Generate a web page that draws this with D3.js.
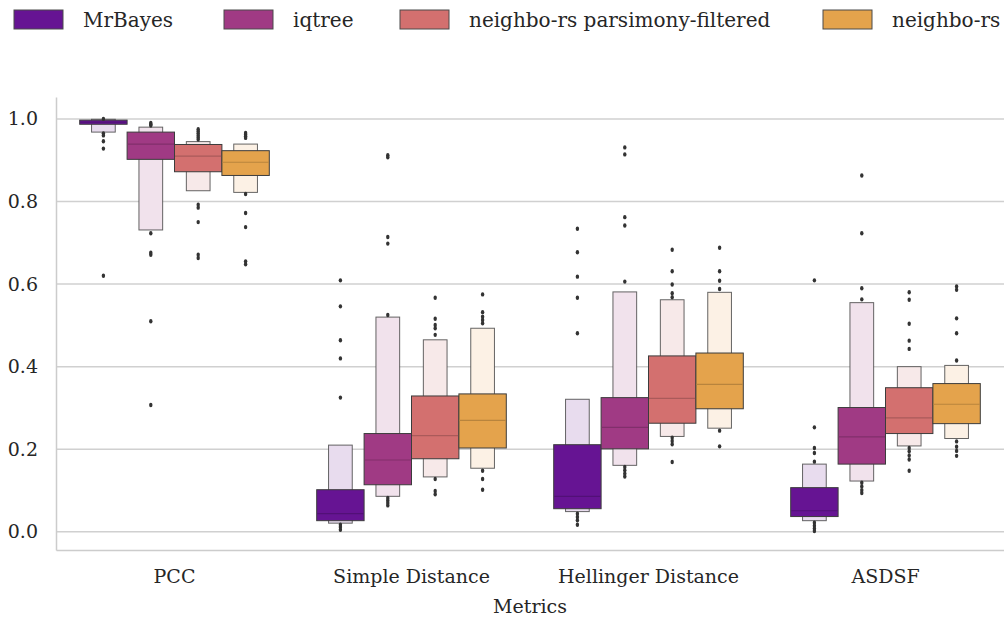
<!DOCTYPE html>
<html lang="en">
<head>
<meta charset="UTF-8" />
<title>Metrics boxen plot</title>
<script src="https://d3js.org/d3.v7.min.js"></script>
<style>
  body { margin: 0; background: #fff; }
  svg text { font-family: "DejaVu Serif", serif !important; fill: #262626; }
</style>
</head>
<body>
<svg width="1004" height="619"></svg>
<script>
// categories and series
var metrics = ["PCC", "Simple Distance", "Hellinger Distance", "ASDSF"];
var series = ["MrBayes", "iqtree", "neighbo-rs parsimony-filtered", "neighbo-rs"];
var colors = ["#661493", "#a03a84", "#d3706f", "#e4a34c"];
var lightColors = ["#e8dcee", "#f1e2ec", "#f7e9e9", "#fcf1e5"];
var yTicks = [0.0, 0.2, 0.4, 0.6, 0.8, 1.0];

// letter values per metric: [outer low, q1, median, q3, outer high]
var mrbayesLV = [[0.968, 0.987, 0.992, 0.997, 0.999], [0.021, 0.027, 0.044, 0.102, 0.21], [0.049, 0.056, 0.086, 0.211, 0.321], [0.027, 0.037, 0.051, 0.107, 0.164]];
var iqtreeLV = [[0.731, 0.902, 0.939, 0.968, 0.980], [0.086, 0.114, 0.174, 0.238, 0.52], [0.161, 0.201, 0.253, 0.325, 0.581], [0.123, 0.164, 0.23, 0.301, 0.555]];
var parsLV = [[0.826, 0.872, 0.91, 0.938, 0.945], [0.133, 0.177, 0.233, 0.329, 0.465], [0.231, 0.263, 0.323, 0.426, 0.562], [0.208, 0.238, 0.276, 0.349, 0.4]];
var neighLV = [[0.822, 0.863, 0.895, 0.923, 0.939], [0.154, 0.203, 0.27, 0.334, 0.493], [0.251, 0.298, 0.357, 0.433, 0.58], [0.226, 0.262, 0.309, 0.359, 0.403]];

// outliers per metric
var mrbayesOut = [[1.0, 0.965, 0.96, 0.946, 0.928, 0.62], [0.609, 0.546, 0.464, 0.42, 0.325, 0.017, 0.012, 0.005], [0.734, 0.677, 0.618, 0.567, 0.481, 0.044, 0.036, 0.028, 0.017], [0.609, 0.253, 0.203, 0.191, 0.17, 0.022, 0.015, 0.008, 0.002]];
var iqtreeOut = [[0.99, 0.987, 0.984, 0.723, 0.676, 0.671, 0.51, 0.307], [0.912, 0.907, 0.714, 0.698, 0.525, 0.082, 0.076, 0.07, 0.064], [0.931, 0.914, 0.762, 0.742, 0.606, 0.157, 0.149, 0.141, 0.134], [0.863, 0.723, 0.59, 0.563, 0.119, 0.11, 0.101, 0.094]];
var parsOut = [[0.975, 0.97, 0.965, 0.96, 0.955, 0.95, 0.792, 0.785, 0.75, 0.671, 0.663], [0.567, 0.516, 0.501, 0.493, 0.477, 0.128, 0.099, 0.091], [0.683, 0.631, 0.599, 0.578, 0.568, 0.228, 0.22, 0.212, 0.169], [0.58, 0.562, 0.504, 0.463, 0.443, 0.203, 0.195, 0.185, 0.175, 0.148]];
var neighOut = [[0.966, 0.962, 0.958, 0.954, 0.818, 0.772, 0.738, 0.655, 0.648], [0.575, 0.532, 0.521, 0.513, 0.505, 0.148, 0.128, 0.102], [0.688, 0.631, 0.608, 0.588, 0.245, 0.207], [0.594, 0.586, 0.517, 0.481, 0.415, 0.219, 0.206, 0.196, 0.184]];

var allLV = [mrbayesLV, iqtreeLV, parsLV, neighLV];
var allOut = [mrbayesOut, iqtreeOut, parsOut, neighOut];

var svg = d3.select("svg");
var plotLeft = 56, plotRight = 1004, plotTop = 97, plotBottom = 550;

var x = d3.scaleBand().domain(metrics).range([plotLeft, plotRight]);
var hue = d3.scaleBand().domain(series).range([0, x.bandwidth() * 0.8]);
var y = d3.scaleLinear().domain([-0.044, 1.053]).range([plotBottom, plotTop]);

// grid
svg.append("g")
  .selectAll("line")
  .data(yTicks)
  .enter().append("line")
  .attr("x1", plotLeft).attr("x2", plotRight)
  .attr("y1", function(d) { return y(d); })
  .attr("y2", function(d) { return y(d); })
  .attr("stroke", "#d0d0d0")
  .attr("stroke-width", 1.5);

// y axis
var yAxis = svg.append("g")
  .attr("transform", "translate(" + plotLeft + ",0)")
  .call(d3.axisLeft(y).tickValues(yTicks).tickFormat(d3.format(".1f")).tickSize(0).tickPadding(18));
yAxis.select(".domain").attr("stroke", "#cccccc").attr("stroke-width", 1.5);
yAxis.selectAll("text").style("font-size", "19px");

// x axis
var xAxis = svg.append("g")
  .attr("transform", "translate(0," + plotBottom + ")")
  .call(d3.axisBottom(x).tickSize(0).tickPadding(20));
xAxis.select(".domain").attr("stroke", "#cccccc").attr("stroke-width", 1.5);
xAxis.selectAll("text").style("font-size", "19px");

svg.append("text")
  .attr("x", (plotLeft + plotRight) / 2)
  .attr("y", 613)
  .attr("text-anchor", "middle")
  .style("font-size", "19px")
  .text("Metrics");

// boxes
var plot = svg.append("g");
series.forEach(function(s, si) {
  metrics.forEach(function(m, mi) {
    var lv = allLV[si][mi];
    var cx = x(m) + x.bandwidth() * 0.1 + hue(s) + hue.bandwidth() / 2;
    var w = hue.bandwidth();
    var g = plot.append("g");
    // outer letter-value box
    g.append("rect")
      .attr("x", cx - w / 4).attr("width", w / 2)
      .attr("y", y(lv[4])).attr("height", y(lv[0]) - y(lv[4]))
      .attr("fill", lightColors[si])
      .attr("stroke", "#4a4a4a").attr("stroke-opacity", 0.85).attr("stroke-width", 1);
    // inner box
    g.append("rect")
      .attr("x", cx - w / 2).attr("width", w)
      .attr("y", y(lv[3])).attr("height", y(lv[1]) - y(lv[3]))
      .attr("fill", colors[si])
      .attr("stroke", "#3c3c3c").attr("stroke-width", 1);
    // median
    g.append("line")
      .attr("x1", cx - w / 2 + 0.5).attr("x2", cx + w / 2 - 0.5)
      .attr("y1", y(lv[2])).attr("y2", y(lv[2]))
      .attr("stroke", d3.color(colors[si]).darker(0.6))
      .attr("stroke-width", 1.2);
    // outliers
    g.selectAll("ellipse")
      .data(allOut[si][mi])
      .enter().append("ellipse")
      .attr("cx", cx)
      .attr("cy", function(d) { return y(d); })
      .attr("rx", 1.7).attr("ry", 2.2)
      .attr("fill", "#333");
  });
});

// legend
var legendX = [14, 224, 400, 823];
var legend = svg.append("g");
series.forEach(function(s, i) {
  legend.append("rect")
    .attr("x", legendX[i]).attr("y", 10)
    .attr("width", 49).attr("height", 19)
    .attr("fill", colors[i])
    .attr("stroke", "#4a4a4a").attr("stroke-width", 1);
  legend.append("text")
    .attr("x", legendX[i] + 69).attr("y", 27)
    .style("font-size", "20px")
    .text(s);
});
</script>
</body>
</html>
